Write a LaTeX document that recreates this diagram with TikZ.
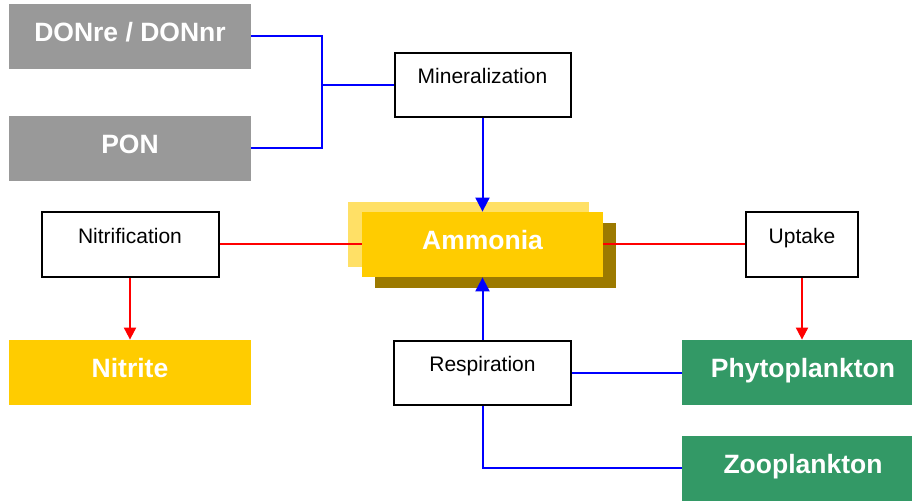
\documentclass[tikz,border=0pt]{standalone}
\usepackage{fontspec}
\setmainfont{Liberation Sans}
\usetikzlibrary{arrows.meta}
\definecolor{pongray}{HTML}{999999}
\definecolor{ammgold}{HTML}{FFCC00}
\definecolor{ammlight}{HTML}{FFE066}
\definecolor{ammdark}{HTML}{9C7A00}
\definecolor{planktongreen}{HTML}{339966}
\newcommand{\bigtxt}{\fontsize{13.25}{15}\selectfont\bfseries}
\newcommand{\smalltxt}{\fontsize{10.5}{12}\selectfont}

\begin{document}
\begin{tikzpicture}[x=0.5pt,y=-0.5pt,
	pool/.style={rectangle, inner sep=0pt, text=white, font=\bigtxt, minimum width=121pt, minimum height=32.5pt, text height=10pt, text depth=5pt},
	process/.style={rectangle, draw=black, line width=1pt, fill=white, inner sep=0pt, font=\smalltxt, minimum height=32pt, text height=8pt, text depth=9.4pt},
	blueline/.style={blue, line width=1pt},
	redline/.style={red, line width=1pt},
	bluearrow/.style={blueline, -{Triangle[width=7pt,length=7pt]}},
	redarrow/.style={redline, -{Triangle[width=6pt,length=6pt]}}]
	\useasboundingbox (0,0) rectangle (912,502);
	% pools
	\node[pool, fill=pongray] (don) at (130,36.5) {DONre / DONnr};
	\node[pool, fill=pongray] (pon) at (130,148.5) {PON};
	\node[pool, fill=ammgold] (nitrite) at (130,372.5) {Nitrite};
	\node[pool, fill=planktongreen] (phyto) at (803,372.5) {Phytoplankton};
	\node[pool, fill=planktongreen] (zoo) at (803,468.5) {Zooplankton};
	\node[pool, fill=ammlight, minimum width=120.5pt] (ammback) at (468.5,234.5) {};
	\node[pool, fill=ammdark, minimum width=120.5pt] (ammshadow) at (495.5,255.5) {};
	\node[pool, fill=ammgold, minimum width=120.5pt] (amm) at (482.5,244.5) {Ammonia};
	% processes
	\node[process, minimum width=88pt] (mineral) at (482.5,85) {Mineralization};
	\node[process, minimum width=88.5pt, minimum height=32.5pt] (nitrif) at (130,244.5) {Nitrification};
	\node[process, minimum width=56pt, minimum height=32.5pt] (uptake) at (802,244.5) {Uptake};
	\node[process, minimum width=88.5pt] (resp) at (482.5,373) {Respiration};
	\coordinate (jn) at (322,85);
	% connectors
	\draw[blueline] (don.east) -| (jn) |- (pon.east);
	\draw[blueline] (jn) -- (mineral.west);
	\draw[bluearrow] (mineral.south) -- (amm.north);
	\draw[bluearrow] (resp.north) -- (amm.south);
	\draw[blueline] (resp.east) -- (resp.east -| phyto.west);
	\draw[blueline] (resp.south) |- (zoo.west);
	\draw[redline] (nitrif.east) -- (nitrif.east -| amm.west);
	\draw[redline] (uptake.west) -- (uptake.west -| amm.east);
	\draw[redarrow] (nitrif.south) -- (nitrite.north);
	\draw[redarrow] (uptake.south) -- (uptake.south |- phyto.north);
\end{tikzpicture}
\end{document}
